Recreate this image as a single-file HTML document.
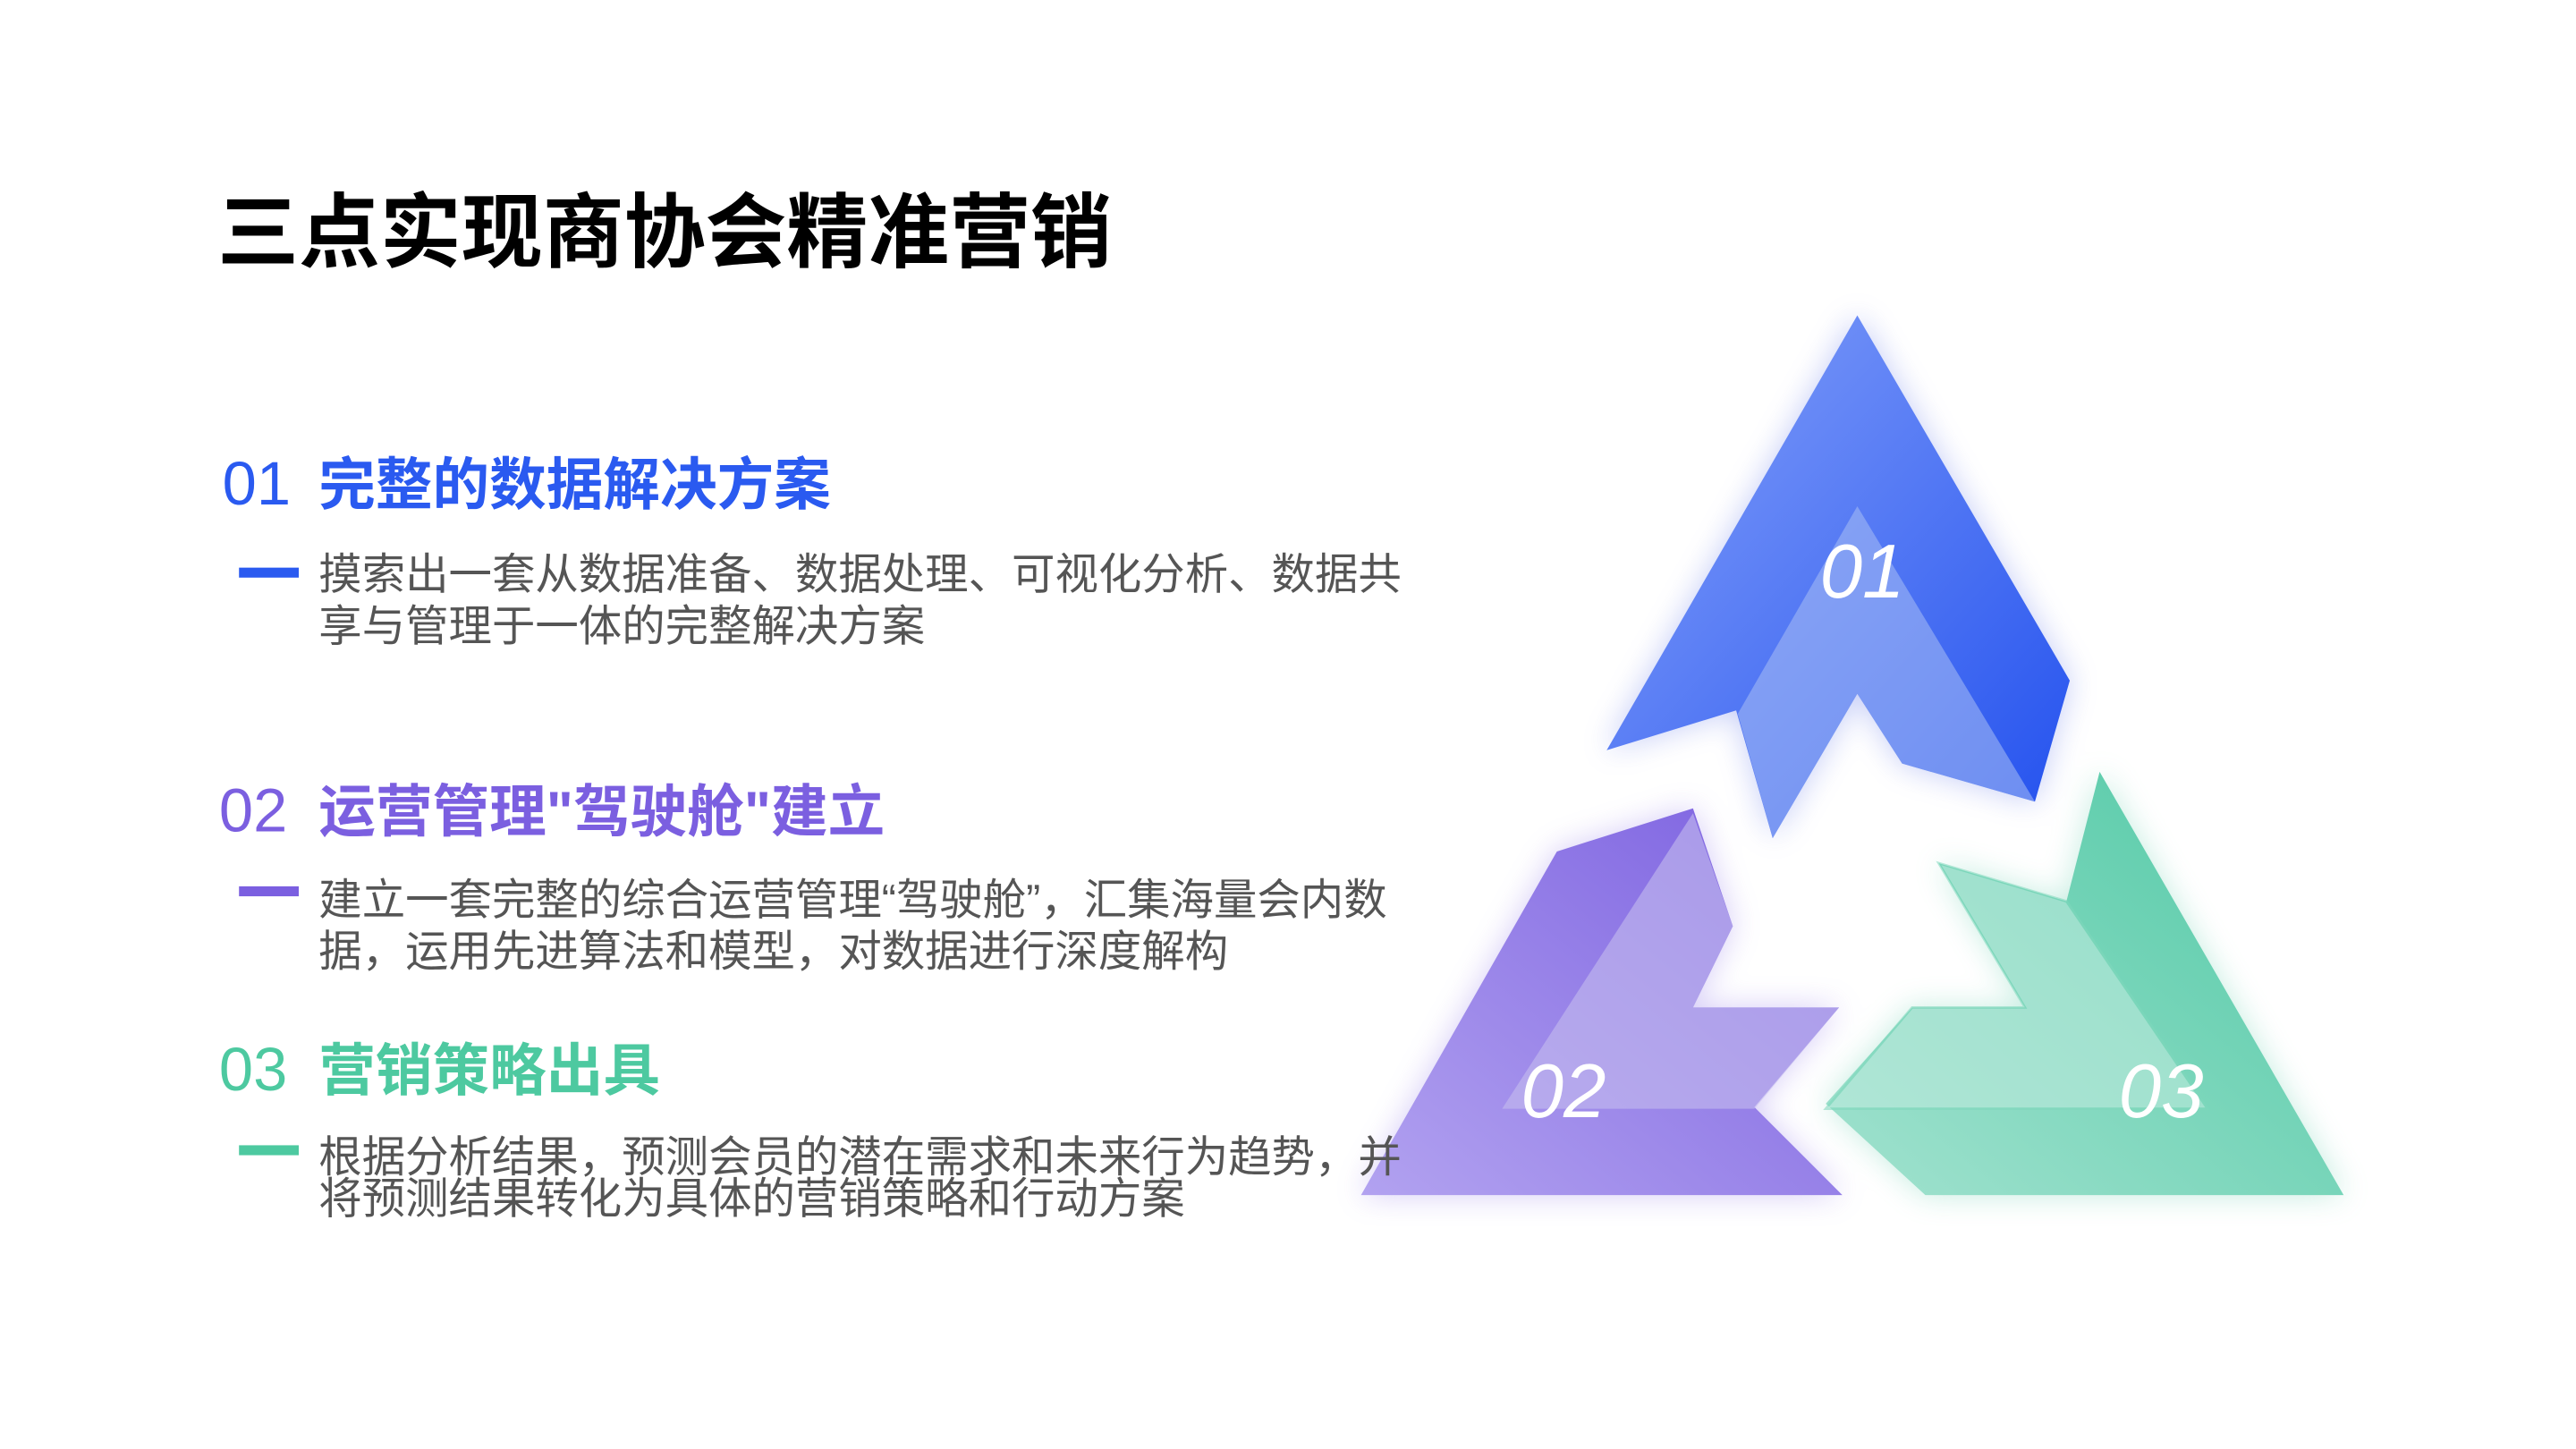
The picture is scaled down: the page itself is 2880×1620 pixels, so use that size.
<!DOCTYPE html>
<html><head><meta charset="utf-8">
<style>
html,body{margin:0;padding:0;background:#fff;}
svg{display:block;}
text{font-family:"Liberation Sans","Noto Sans CJK SC",sans-serif;}
</style></head>
<body>
<svg width="2880" height="1620" viewBox="0 0 1552 873" xmlns="http://www.w3.org/2000/svg">
<defs>
<linearGradient id="gb" x1="0" y1="0" x2="1" y2="1">
<stop offset="0" stop-color="#86a2fa"/><stop offset="1" stop-color="#2250ee"/></linearGradient>
<linearGradient id="gp" x1="1" y1="0" x2="0" y2="1">
<stop offset="0" stop-color="#7b60e0"/><stop offset="1" stop-color="#b2a2f0"/></linearGradient>
<linearGradient id="gg" x1="1" y1="0" x2="0" y2="1">
<stop offset="0" stop-color="#4ec8a4"/><stop offset="1" stop-color="#a2e2cf"/></linearGradient>
<filter id="sh" x="-30%" y="-30%" width="160%" height="160%">
<feGaussianBlur stdDeviation="9"/></filter>
</defs>
<rect width="1552" height="873" fill="#fff"/>

<!-- shadows -->
<g filter="url(#sh)" opacity="0.35">
<polygon points="1119,190 1247,410 1226,483 1146,460 1119,418 1068,505 1046,428 968,452" fill="#5a70e8"/>
<polygon points="1020,487 1044,558 1020,607 1108,607 1057,667 1110,720 820,720 938,513" fill="#8a70e8"/>
<polygon points="1265,465 1412,720 1160,720 1100,665 1152,607 1220,607 1168,520 1245,543" fill="#5ccaa8"/>
</g>

<!-- 01 -->
<polygon points="1119,190 1247,410 1226,483 1146,460 1119,418 1068,505 1046,428 968,452" fill="url(#gb)"/>
<polygon points="1119,305 1226,483 1146,460 1119,418 1068,505 1047,430" fill="#a8bdf4" opacity="0.55"/>
<!-- 02 -->
<polygon points="1020,487 1044,558 1020,607 1108,607 1057,667 1110,720 820,720 938,513" fill="url(#gp)"/>
<polygon points="1020,490 1044,558 1020,607 1108,607 1057,668 905,668" fill="#c4bdee" opacity="0.6"/>
<!-- 03 -->
<polygon points="1265,465 1412,720 1160,720 1100,665 1152,607 1220,607 1168,520 1245,543" fill="url(#gg)"/>
<polygon points="1168,520 1245,543 1330,668 1100,668 1152,607 1220,607" fill="#c2ece0" opacity="0.55" stroke="#7fd8bc" stroke-width="1.5"/>

<text x="1122" y="360" font-size="46" font-style="italic" fill="#fff" text-anchor="middle">01</text>
<text x="942" y="673" font-size="46" font-style="italic" fill="#fff" text-anchor="middle">02</text>
<text x="1302" y="673" font-size="46" font-style="italic" fill="#fff" text-anchor="middle">03</text>

<text x="131" y="157" font-size="49" font-weight="bold" fill="#000">三点实现商协会精准营销</text>

<text x="134" y="304" font-size="37" fill="#2a5af0">01</text>
<text x="192" y="304" font-size="34.3" font-weight="bold" fill="#2a5af0">完整的数据解决方案</text>
<rect x="144" y="342" width="36" height="6" fill="#2a5af0"/>
<text x="192" y="355" font-size="26.1" fill="#555">摸索出一套从数据准备、数据处理、可视化分析、数据共</text>
<text x="192" y="386" font-size="26.1" fill="#555">享与管理于一体的完整解决方案</text>

<text x="132" y="501" font-size="37" fill="#7b5fe0">02</text>
<text x="192" y="501" font-size="34.3" font-weight="bold" fill="#7b5fe0">运营管理"驾驶舱"建立</text>
<rect x="144" y="534" width="36" height="6" fill="#7b5fe0"/>
<text x="192" y="551" font-size="26.1" fill="#555">建立一套完整的综合运营管理“驾驶舱”，汇集海量会内数</text>
<text x="192" y="582" font-size="26.1" fill="#555">据，运用先进算法和模型，对数据进行深度解构</text>

<text x="132" y="657" font-size="37" fill="#4dc9a0">03</text>
<text x="192" y="657" font-size="34.3" font-weight="bold" fill="#4dc9a0">营销策略出具</text>
<rect x="144" y="690" width="36" height="6" fill="#4dc9a0"/>
<text x="192" y="706" font-size="26.1" fill="#555">根据分析结果，预测会员的潜在需求和未来行为趋势，并</text>
<text x="192" y="731" font-size="26.1" fill="#555">将预测结果转化为具体的营销策略和行动方案</text>
</svg>
</body></html>
